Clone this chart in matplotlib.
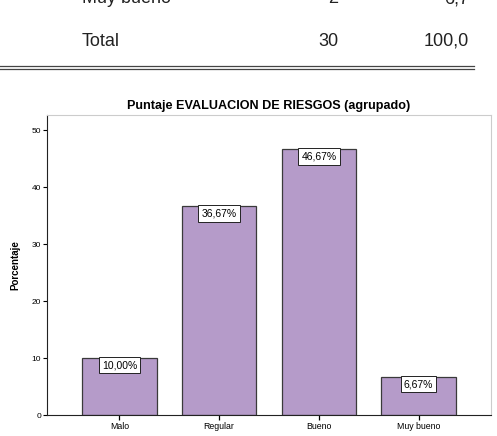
import numpy as np
import matplotlib.pyplot as plt
from matplotlib.lines import Line2D

plt.rcParams['font.family'] = ['Liberation Sans', 'DejaVu Sans']

categories = ['Malo', 'Regular', 'Bueno', 'Muy bueno']
percent = [10.00, 36.67, 46.67, 6.67]
labels = ['10,00%', '36,67%', '46,67%', '6,67%']

table_rows = [('Muy bueno', '2', '6,7'), ('Total', '30', '100,0')]

W, H = 497, 436
fig = plt.figure(figsize=(W / 100, H / 100), dpi=100)

# fragment of the frequency table above the chart
row_y = [3, 46]
for (name, n, pct), yy in zip(table_rows, row_y):
    fy = 1 - yy / H
    fig.text(82 / W, fy, name, fontsize=13, va='baseline', ha='left', color='#222222')
    fig.text(338 / W, fy, n, fontsize=13, va='baseline', ha='right', color='#222222')
    fig.text(469 / W, fy, pct, fontsize=13, va='baseline', ha='right', color='#222222')
for yy in [66.0, 69.5]:
    fig.add_artist(Line2D([0, 474 / W], [1 - yy / H] * 2, color='#444444', lw=0.9))

ax = fig.add_axes([47.3 / W, 21 / H, 443.4 / W, 300 / H])
x = np.arange(len(categories))
ax.bar(x, percent, width=0.747, color='#b59bc9', edgecolor='#3a3a3a', linewidth=0.9)

for xi, v, lab in zip(x, percent, labels):
    ax.text(xi, v - 0.4, lab, ha='center', va='top', fontsize=7.5,
            bbox=dict(boxstyle='square,pad=0.3', fc='white', ec='#222222', lw=0.7))

ax.set_xlim(-0.724, 3.724)
ax.set_ylim(0, 52.7)
ax.set_yticks([0, 10, 20, 30, 40, 50])
ax.set_xticks(x)
ax.set_xticklabels(categories)
ax.tick_params(axis='x', labelsize=6.3, length=3.5, width=0.9, pad=1.5)
ax.tick_params(axis='y', labelsize=6, length=3, width=0.8, pad=1.5)

ax.spines['left'].set_color('#222222')
ax.spines['bottom'].set_color('#222222')
ax.spines['top'].set_color('#cccccc')
ax.spines['right'].set_color('#cccccc')

ax.set_ylabel('Porcentaje', fontsize=7, fontweight='bold', labelpad=8)
ax.set_title('Puntaje EVALUACION DE RIESGOS (agrupado)', fontsize=9.1, fontweight='bold', pad=4)

fig.savefig('out.png', dpi=100)
plt.close(fig)
